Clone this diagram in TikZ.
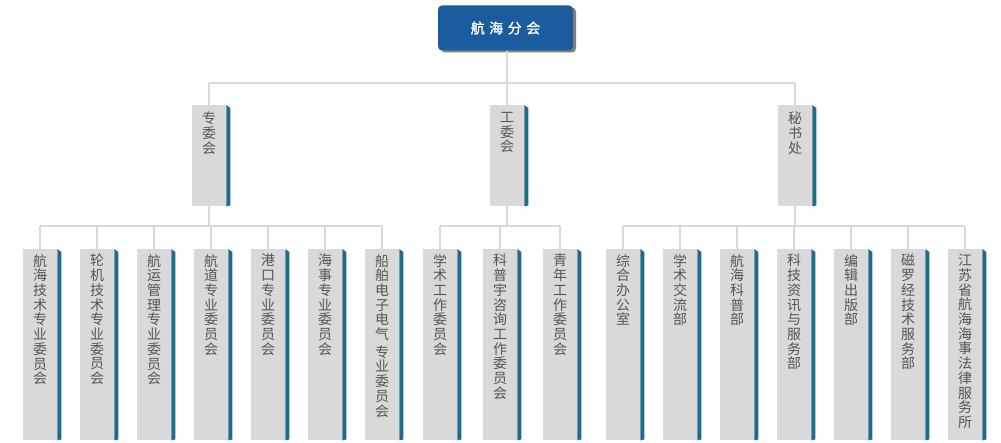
\documentclass[tikz,border=0pt]{standalone}
\usepackage{fontspec}
\setmainfont{Noto Sans CJK SC}
\newfontfamily\hqfont[FakeBold=1.5]{Noto Sans CJK SC}
\usepackage{xcolor}
\usepackage{tikz}
\usetikzlibrary{positioning,shadows}

\definecolor{hqblue}{RGB}{26,92,158}
\definecolor{hqshadow}{RGB}{128,128,128}
\definecolor{boxgray}{RGB}{217,217,217}
\definecolor{sideteal}{RGB}{31,108,138}
\definecolor{linkgray}{RGB}{217,217,217}
\definecolor{textgray}{RGB}{85,85,85}

\tikzset{
  link/.style={draw=linkgray, line width=1.6pt},
  hq/.style={fill=hqblue, rounded corners=4pt, minimum width=135pt, minimum height=45pt,
    text=white, font=\hqfont\fontsize{14}{16}\selectfont,
    drop shadow={shadow xshift=3pt, shadow yshift=-2pt, fill=hqshadow, opacity=1}},
  dept/.style={fill=boxgray, minimum width=34pt, minimum height=101pt, inner sep=0pt, anchor=north west},
  unit/.style={dept, minimum height=191pt},
  vtext/.style={text=textgray, align=center, inner sep=0pt, font=\fontsize{14}{14.7}\selectfont},
}

\begin{document}
\begin{tikzpicture}[x=1pt, y=-1pt]
    \useasboundingbox (0,0) rectangle (1001,443);

    \node[hq] (hq) at (505.5,28) {航\hspace{4.5pt}海\hspace{4.5pt}分\hspace{4.5pt}会};

    % second level
    \node[dept] (m1) at (192,105) {};
    \node[dept] (m2) at (490,105) {};
    \node[dept] (m3) at (778,105) {};
    \node[vtext, below=7pt of m1.north] (tm1) {专\\委\\会};
    \node[vtext, below=7pt of m2.north] (tm2) {工\\委\\会};
    \node[vtext, below=7pt of m3.north] (tm3) {秘\\书\\处};

    % third level, 专委会
    \node[unit] (u1) at (23,249) {};
    \node[unit] (u2) at (80,249) {};
    \node[unit] (u3) at (137,249) {};
    \node[unit] (u4) at (194,249) {};
    \node[unit] (u5) at (251,249) {};
    \node[unit] (u6) at (308,249) {};
    \node[unit] (u7) at (365,249) {};
    % third level, 工委会
    \node[unit] (u8) at (423,249) {};
    \node[unit] (u9) at (483,249) {};
    \node[unit] (u10) at (543,249) {};
    % third level, 秘书处
    \node[unit] (u11) at (606,249) {};
    \node[unit] (u12) at (663,249) {};
    \node[unit] (u13) at (720,249) {};
    \node[unit] (u14) at (777,249) {};
    \node[unit] (u15) at (834,249) {};
    \node[unit] (u16) at (891,249) {};
    \node[unit] (u17) at (948,249) {};

    \node[vtext, below=5pt of u1.north] (t1) {航\\海\\技\\术\\专\\业\\委\\员\\会};
    \node[vtext, below=5pt of u2.north] (t2) {轮\\机\\技\\术\\专\\业\\委\\员\\会};
    \node[vtext, below=5pt of u3.north] (t3) {航\\运\\管\\理\\专\\业\\委\\员\\会};
    \node[vtext, below=5pt of u4.north] (t4) {航\\道\\专\\业\\委\\员\\会};
    \node[vtext, below=5pt of u5.north] (t5) {港\\口\\专\\业\\委\\员\\会};
    \node[vtext, below=5pt of u6.north] (t6) {海\\事\\专\\业\\委\\员\\会};
    \node[vtext, below=5pt of u7.north] (t7) {船\\舶\\电\\子\\电\\气\\[3pt]专\\业\\委\\员\\会};
    \node[vtext, below=5pt of u8.north] (t8) {学\\术\\工\\作\\委\\员\\会};
    \node[vtext, below=5pt of u9.north] (t9) {科\\普\\宇\\咨\\询\\工\\作\\委\\员\\会};
    \node[vtext, below=5pt of u10.north] (t10) {青\\年\\工\\作\\委\\员\\会};
    \node[vtext, below=5pt of u11.north] (t11) {综\\合\\办\\公\\室};
    \node[vtext, below=5pt of u12.north] (t12) {学\\术\\交\\流\\部};
    \node[vtext, below=5pt of u13.north] (t13) {航\\海\\科\\普\\部};
    \node[vtext, below=5pt of u14.north] (t14) {科\\技\\资\\讯\\与\\服\\务\\部};
    \node[vtext, below=5pt of u15.north] (t15) {编\\辑\\出\\版\\部};
    \node[vtext, below=5pt of u16.north] (t16) {磁\\罗\\经\\技\\术\\服\\务\\部};
    \node[vtext, below=5pt of u17.north] (t17) {江\\苏\\省\\航\\海\\海\\事\\法\\律\\服\\务\\所};

    % teal side of every box
    \foreach \n in {m1,m2,m3,u1,u2,u3,u4,u5,u6,u7,u8,u9,u10,u11,u12,u13,u14,u15,u16,u17}
        \fill[sideteal] (\n.north east) -- ([shift={(4pt,-3pt)}]\n.north east)
            -- ([shift={(4pt,1pt)}]\n.south east) -- (\n.south east) -- cycle;

    % connectors
    \coordinate (bus) at (507,83);
    \coordinate (row) at (0,226);
    \draw[link] (bus |- hq.south) -- (bus);
    \draw[link] (m1.north |- bus) -- (m3.north |- bus);
    \foreach \n in {m1,m2,m3}
        \draw[link] (\n.north |- bus) -- (\n.north);

    \draw[link] (m1.south) -- (m1.south |- row);
    \draw[link] (u1.north |- row) -- (u7.north |- row);
    \foreach \n in {u1,u2,u3,u4,u5,u6,u7}
        \draw[link] (\n.north |- row) -- (\n.north);

    \draw[link] (m2.south) -- (m2.south |- row);
    \draw[link] (u8.north |- row) -- (u10.north |- row);
    \foreach \n in {u8,u9,u10}
        \draw[link] (\n.north |- row) -- (\n.north);

    \draw[link] (m3.south) -- (m3.south |- row);
    \draw[link] (u11.north |- row) -- (u17.north |- row);
    \foreach \n in {u11,u12,u13,u14,u15,u16,u17}
        \draw[link] (\n.north |- row) -- (\n.north);
\end{tikzpicture}
\end{document}
